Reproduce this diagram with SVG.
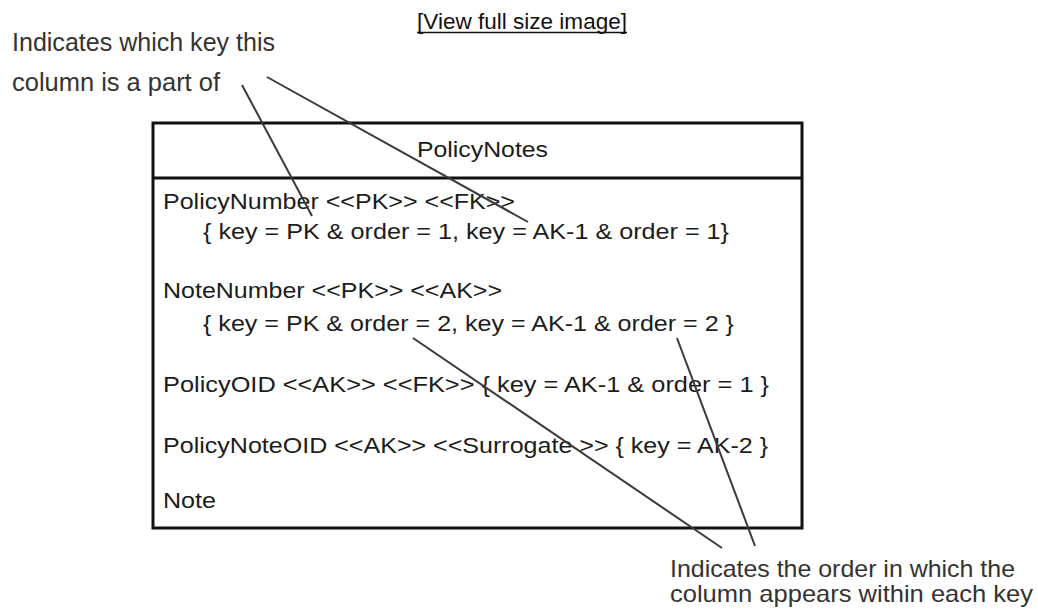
<svg xmlns="http://www.w3.org/2000/svg" width="1038" height="613" viewBox="0 0 1038 613">
<style>
text{font-family:"Liberation Sans",Arial,Helvetica,sans-serif;fill:#1c1c1c}
.box{fill:#fff;stroke:#111;stroke-width:3}
.sep{stroke:#111;stroke-width:3}
.t{font-size:22px}
.note{font-size:25px;fill:#333}
.note2{font-size:24px;fill:#333}
.link{font-size:22px;fill:#111}
.con{stroke:#3a3a3a;stroke-width:2;fill:none}
</style>
<rect width="1038" height="613" fill="#fff"/>
<g id="view-link">
<text class="link" x="417" y="29" textLength="210" lengthAdjust="spacingAndGlyphs">[View full size image]</text>
<line x1="417" y1="32.5" x2="627" y2="32.5" stroke="#111" stroke-width="1.5"/>
</g>
<g id="note-key">
<text class="note" x="12" y="51" textLength="263" lengthAdjust="spacingAndGlyphs">Indicates which key this</text>
<text class="note" x="12" y="91" textLength="208" lengthAdjust="spacingAndGlyphs">column is a part of</text>
</g>
<g id="policy-notes">
<rect class="box" x="153" y="123" width="649" height="405"/>
<line class="sep" x1="153" y1="178" x2="802" y2="178"/>
<text class="t" x="417" y="157" textLength="131" lengthAdjust="spacingAndGlyphs">PolicyNotes</text>
<text class="t" x="163" y="209" textLength="352" lengthAdjust="spacingAndGlyphs">PolicyNumber &lt;&lt;PK&gt;&gt; &lt;&lt;FK&gt;&gt;</text>
<text class="t" x="203" y="239" textLength="526" lengthAdjust="spacingAndGlyphs">{ key = PK &amp; order = 1, key = AK-1 &amp; order = 1}</text>
<text class="t" x="163" y="298" textLength="339" lengthAdjust="spacingAndGlyphs">NoteNumber &lt;&lt;PK&gt;&gt; &lt;&lt;AK&gt;&gt;</text>
<text class="t" x="203" y="331" textLength="531" lengthAdjust="spacingAndGlyphs">{ key = PK &amp; order = 2, key = AK-1 &amp; order = 2 }</text>
<text class="t" x="163" y="392" textLength="606" lengthAdjust="spacingAndGlyphs">PolicyOID &lt;&lt;AK&gt;&gt; &lt;&lt;FK&gt;&gt; { key = AK-1 &amp; order = 1 }</text>
<text class="t" x="163" y="453" textLength="605" lengthAdjust="spacingAndGlyphs">PolicyNoteOID &lt;&lt;AK&gt;&gt; &lt;&lt;Surrogate &gt;&gt; { key = AK-2 }</text>
<text class="t" x="163" y="508" textLength="53" lengthAdjust="spacingAndGlyphs">Note</text>
</g>
<g id="note-order">
<text class="note2" x="670" y="577" textLength="345" lengthAdjust="spacingAndGlyphs">Indicates the order in which the</text>
<text class="note2" x="670" y="602" textLength="363" lengthAdjust="spacingAndGlyphs">column appears within each  key</text>
</g>
<g id="connectors">
<line class="con" x1="242" y1="85" x2="312" y2="216"/>
<line class="con" x1="267" y1="77" x2="528" y2="222"/>
<line class="con" x1="413" y1="338" x2="722" y2="548"/>
<line class="con" x1="677" y1="338" x2="755" y2="546"/>
</g>
</svg>
